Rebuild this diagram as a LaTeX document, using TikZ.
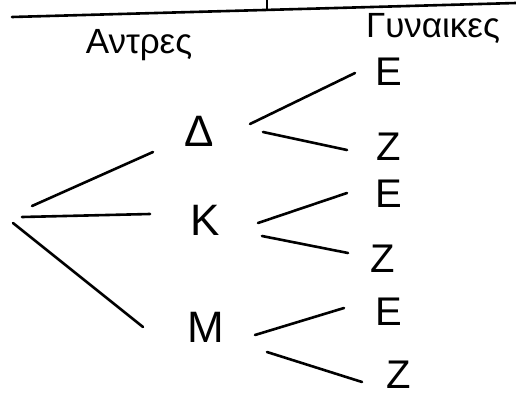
\documentclass[tikz,border=0pt]{standalone}
\usepackage{fontspec}
\setmainfont{Liberation Sans}
\usetikzlibrary{calc, positioning}

\begin{document}
\begin{tikzpicture}[x=1pt, y=-1pt,
  branch/.style={line width=2.6pt, line cap=round},
  parent/.style={font=\fontsize{44}{44}\selectfont, inner sep=0pt},
  child/.style={font=\fontsize{40}{40}\selectfont, inner sep=0pt},
  head/.style={font=\fontsize{35}{35}\selectfont, inner sep=0pt}]
\useasboundingbox (0,0) rectangle (516,396);

% rule under the (cut off) title
\coordinate (L) at (12,17);
\coordinate (R) at (516,3);
\draw[branch] (L) -- (R);
\draw[branch] (267,0) -- (267,10);

\node[head] (men) at (139,45) {Αντρες};
\node[head] (women) at (433,28) {Γυναικες};

\coordinate (root) at (14,214);
\node[parent] (D) at (199,131) {Δ};
\node[parent] (K) at (205,220) {Κ};
\node[parent] (M) at (206,327) {Μ};

\node[child] (E1) at (389,72) {Ε};
\node[child] (Z1) at (389,147) {Ζ};
\node[child] (E2) at (389,194) {Ε};
\node[child] (Z2) at (383,259) {Ζ};
\node[child] (E3) at (389,312) {Ε};
\node[child] (Z3) at (399,375) {Ζ};

% first level
\draw[branch] ($(root)+(18,-8)$) -- ($(D)+(-46,21)$);
\draw[branch] ($(root)+(8,3)$) -- ($(K)+(-55,-6)$);
\draw[branch] ($(root)+(-1,9)$) -- ($(M)+(-63,0)$);

% second level
\draw[branch] ($(D)+(51,-7)$) -- ($(E1)+(-34,1)$);
\draw[branch] ($(D)+(64,1)$) -- ($(Z1)+(-42,3)$);
\draw[branch] ($(K)+(53,3)$) -- ($(E2)+(-42,-1)$);
\draw[branch] ($(K)+(57,16)$) -- ($(Z2)+(-35,-6)$);
\draw[branch] ($(M)+(49,8)$) -- ($(E3)+(-45,-4)$);
\draw[branch] ($(M)+(61,25)$) -- ($(Z3)+(-37,7)$);
\end{tikzpicture}
\end{document}
